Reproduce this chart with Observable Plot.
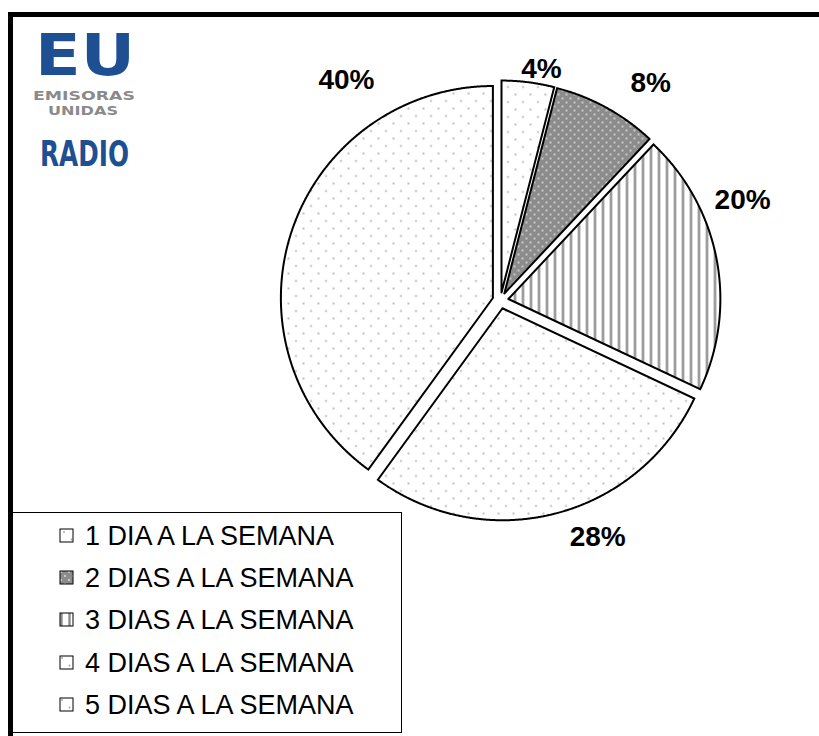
<!DOCTYPE html>
<html>
<head>
<meta charset="utf-8">
<script src="https://cdn.jsdelivr.net/npm/d3@7"></script>
<script src="https://cdn.jsdelivr.net/npm/@observablehq/plot@0.6"></script>
<style>
  html, body { margin: 0; padding: 0; background: #fff; }
  body { font-family: "Liberation Sans", Arial, sans-serif; }
  #wrap { position: relative; width: 819px; height: 736px; overflow: hidden; background: #fff; }
  #chart { position: absolute; left: 0; top: 0; }
  #chart svg { background: transparent; }
  #frame { position: absolute; left: 8px; top: 12px; width: 900px; height: 900px;
           border-top: 5px solid #000; border-left: 5px solid #000; pointer-events: none; }
  #logo { position: absolute; left: 0; top: 0; }
  #legend { position: absolute; left: 12px; top: 512px; width: 390px; height: 221px;
            border: 1px solid #000; box-sizing: border-box; background: #fff; }
  .row { position: absolute; left: 0; height: 42px; }
  .row svg { position: absolute; left: 46px; }
  .row span { position: absolute; left: 72px; font-size: 27px; color: #000; white-space: nowrap; line-height: 42px; top: 0; }
</style>
</head>
<body>
<svg width="0" height="0" style="position:absolute">
  <defs>
    <pattern id="pLight" width="15" height="15" patternUnits="userSpaceOnUse">
      <rect width="15" height="15" fill="#fff"/>
      <circle cx="3" cy="3" r="0.9" fill="#a0a0a0"/>
      <circle cx="10.5" cy="10.5" r="0.9" fill="#a0a0a0"/>
    </pattern>
    <pattern id="pLight1" width="15" height="15" patternUnits="userSpaceOnUse">
      <rect width="15" height="15" fill="#fff"/>
      <circle cx="5" cy="4" r="0.9" fill="#a0a0a0"/>
      <circle cx="12.5" cy="11.5" r="0.9" fill="#a0a0a0"/>
    </pattern>
    <pattern id="pDark" width="8" height="8" patternUnits="userSpaceOnUse">
      <rect width="8" height="8" fill="#8c8c8c"/>
      <circle cx="2" cy="2" r="0.9" fill="#e6e6e6"/>
      <circle cx="6" cy="6" r="0.9" fill="#e6e6e6"/>
    </pattern>
    <pattern id="pStripe" width="8" height="8" patternUnits="userSpaceOnUse">
      <rect width="8" height="8" fill="#fff"/>
      <rect x="1" y="0" width="3" height="8" fill="#b0b0b0"/>
      <rect x="2" y="0" width="1" height="8" fill="#8a8a8a"/>
    </pattern>
  </defs>
</svg>
<div id="wrap">
  <div id="chart"></div>
  <svg id="logo" width="240" height="200">
    <text x="35" y="75" font-family="DejaVu Sans" font-weight="bold" font-size="57" fill="#1d4f92"
          textLength="100" lengthAdjust="spacingAndGlyphs">EU</text>
    <text x="33" y="100" font-family="DejaVu Sans" font-weight="bold" font-size="12" fill="#8a8a8a"
          textLength="102" lengthAdjust="spacingAndGlyphs">EMISORAS</text>
    <text x="48" y="115" font-family="DejaVu Sans" font-weight="bold" font-size="12" fill="#8a8a8a"
          textLength="70" lengthAdjust="spacingAndGlyphs">UNIDAS</text>
    <text x="40" y="166" font-family="DejaVu Sans" font-weight="bold" font-size="35" fill="#1d4f92"
          textLength="89" lengthAdjust="spacingAndGlyphs">RADIO</text>
  </svg>
  <div id="legend"></div>
  <div id="frame"></div>
</div>
<script>
// ---- data ----
const categories = ["1 DIA A LA SEMANA", "2 DIAS A LA SEMANA", "3 DIAS A LA SEMANA", "4 DIAS A LA SEMANA", "5 DIAS A LA SEMANA"];
const values = [4, 8, 20, 28, 40];
const pctLabels = ["4%", "8%", "20%", "28%", "40%"];

// ---- styling / layout ----
const patterns = ["url(#pLight1)", "url(#pDark)", "url(#pStripe)", "url(#pLight)", "url(#pLight)"];
const labelAngle = [10.0, 34.6, 67.5, 157.7, 325.1];   // degrees clockwise from north
const labelRadius = [1.111, 1.248, 1.236, 1.208, 1.27]; // in pie radii
const R = 212, CX = 500, CY = 300, W = 819, H = 736;
const explode = 8 / R;

const arcs = d3.pie().sort(null).value(d => d)(values);
const slices = arcs.map((a, i) => {
  const mid = (a.startAngle + a.endAngle) / 2;
  const ox = explode * Math.sin(mid), oy = explode * Math.cos(mid);
  const pts = [{x: ox, y: oy, i}];
  const n = Math.max(8, Math.ceil((a.endAngle - a.startAngle) / (Math.PI / 720)));
  for (let k = 0; k <= n; k++) {
    const t = a.startAngle + (a.endAngle - a.startAngle) * k / n;
    pts.push({x: ox + Math.sin(t), y: oy + Math.cos(t), i});
  }
  pts.push({x: ox, y: oy, i});
  return pts;
});

const labelData = values.map((v, i) => {
  const t = labelAngle[i] * Math.PI / 180;
  return {x: labelRadius[i] * Math.sin(t), y: labelRadius[i] * Math.cos(t), text: pctLabels[i]};
});

const marks = slices.map((pts, i) => Plot.line(pts, {
  x: "x", y: "y", fill: patterns[i], stroke: "#000", strokeWidth: 2,
  strokeLinejoin: "miter", strokeMiterlimit: 10, curve: "linear"
}));
marks.push(Plot.text(labelData, {
  x: "x", y: "y", text: "text", fontSize: 28, fontWeight: "bold", fill: "#000",
  fontFamily: "Liberation Sans, Arial, sans-serif", textAnchor: "middle", lineAnchor: "middle"
}));

const chart = Plot.plot({
  width: W, height: H,
  marginTop: 0, marginRight: 0, marginBottom: 0, marginLeft: 0,
  x: {domain: [-CX / R, (W - CX) / R], axis: null},
  y: {domain: [-(H - CY) / R, CY / R], axis: null},
  style: {background: "transparent", overflow: "visible"},
  marks
});
document.getElementById("chart").appendChild(chart);

// ---- legend ----
const legend = document.getElementById("legend");
categories.forEach((c, i) => {
  const row = document.createElement("div");
  row.className = "row";
  row.style.top = (2 + i * 42.2) + "px";
  row.style.width = "385px";
  row.innerHTML = `<svg width="16" height="16" style="top:13px"><rect x="1" y="1" width="13" height="13" fill="${patterns[i]}" stroke="#000" stroke-width="1"/></svg><span>${c}</span>`;
  legend.appendChild(row);
});
</script>
</body>
</html>
